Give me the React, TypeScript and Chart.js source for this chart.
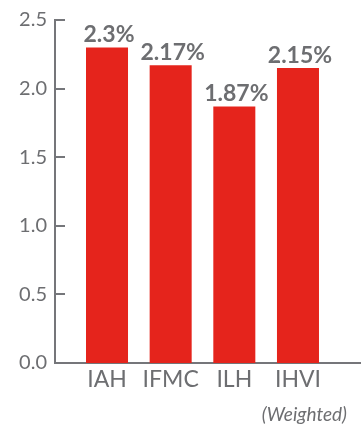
import React, { useEffect, useRef } from "react";
import { Chart, registerables } from "chart.js";

Chart.register(...registerables);

const categories = ["IAH", "IFMC", "ILH", "IHVI"];
const values = [2.3, 2.17, 1.87, 2.15];
const yTicks = [0, 0.5, 1.0, 1.5, 2.0, 2.5];
const note = "(Weighted)";

const RED = "#e5241c";
const GRAY = "#6d6e71";
const AXIS = "#75767a";
const FONT = "Lato, 'Open Sans', sans-serif";

export default function App() {
  const ref = useRef<HTMLCanvasElement | null>(null);

  useEffect(() => {
    document.body.style.margin = "0";
    const canvas = ref.current;
    if (!canvas) return;

    const overlay = {
      id: "overlay",
      afterDatasetsDraw(chart: any) {
        const { ctx, chartArea } = chart;
        const y = chart.scales.y;
        ctx.save();
        ctx.strokeStyle = AXIS;
        ctx.lineWidth = 2;
        yTicks.forEach((v) => {
          const py = Math.round(y.getPixelForValue(v));
          ctx.beginPath();
          ctx.moveTo(chartArea.left - 1, py);
          ctx.lineTo(chartArea.left + 10, py);
          ctx.stroke();
        });
        const meta = chart.getDatasetMeta(0);
        ctx.fillStyle = GRAY;
        ctx.font = `700 23px ${FONT}`;
        ctx.textAlign = "center";
        ctx.textBaseline = "alphabetic";
        meta.data.forEach((bar: any, i: number) => {
          ctx.fillText(`${values[i]}%`, bar.x + 2, bar.y - 5);
        });
        ctx.restore();
      },
    };

    const chart = new Chart(canvas, {
      type: "bar",
      data: {
        datasets: [
          {
            data: categories.map((_, i) => ({ x: i, y: values[i] })),
            backgroundColor: RED,
            borderWidth: 0,
            categoryPercentage: 1,
            barPercentage: 0.66,
          },
        ],
      },
      options: {
        animation: false,
        responsive: false,
        maintainAspectRatio: false,
        layout: { padding: { top: 19, right: 0, bottom: 0, left: 0 } },
        plugins: {
          legend: { display: false },
          tooltip: { enabled: false },
          title: { display: false },
        },
        scales: {
          x: {
            type: "linear",
            offset: false,
            min: -0.817,
            max: 3.99,
            grid: { display: false, drawTicks: false, offset: false },
            border: { display: true, color: AXIS, width: 2 },
            afterFit(scale: any) {
              scale.height = 63;
            },
            afterBuildTicks(scale: any) {
              scale.ticks = categories.map((_, i) => ({ value: i }));
            },
            ticks: {
              autoSkip: false,
              maxRotation: 0,
              padding: 3,
              color: GRAY,
              font: { family: FONT, size: 23, weight: "400" },
              callback: (v: any) => categories[v] ?? "",
            },
          },
          y: {
            min: 0,
            max: 2.5,
            grid: { display: false, drawTicks: false },
            border: { display: true, color: AXIS, width: 2 },
            afterFit(scale: any) {
              scale.width = 55;
            },
            afterBuildTicks(scale: any) {
              scale.ticks = yTicks.map((v) => ({ value: v }));
            },
            ticks: {
              padding: 8,
              color: GRAY,
              font: { family: FONT, size: 20, weight: "400" },
              callback: (v: any) => Number(v).toFixed(1),
            },
          },
        },
      },
      plugins: [overlay],
    });

    return () => chart.destroy();
  }, []);

  return (
    <div style={{ position: "relative", width: 361, height: 426 }}>
      <canvas ref={ref} width={361} height={426} style={{ display: "block" }} />
      <div
        style={{
          position: "absolute",
          right: 14,
          top: 403,
          fontFamily: FONT,
          fontStyle: "italic",
          fontSize: 19,
          lineHeight: "22px",
          color: GRAY,
          whiteSpace: "nowrap",
        }}
      >
        {note}
      </div>
    </div>
  );
}
